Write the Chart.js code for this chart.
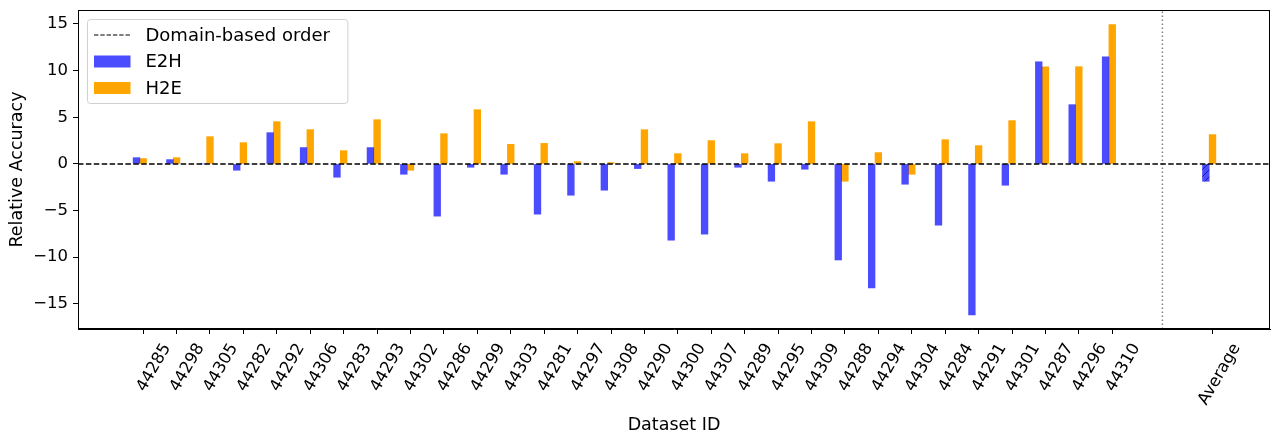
<!DOCTYPE html>
<html>
<head>
<meta charset="utf-8">
<script src="https://cdn.jsdelivr.net/npm/chart.js@4/dist/chart.umd.min.js"></script>
<style>
  html, body { margin: 0; padding: 0; background: #fff; }
  #wrap { width: 1280px; height: 436px; }
</style>
</head>
<body>
<div id="wrap"><canvas id="chart"></canvas></div>
<script>
// Data
const datasetIds = ["44285", "44298", "44305", "44282", "44292", "44306", "44283", "44293", "44302", "44286",
  "44299", "44303", "44281", "44297", "44308", "44290", "44300", "44307", "44289", "44295",
  "44309", "44288", "44294", "44304", "44284", "44291", "44301", "44287", "44296", "44310"];
const e2hValues = [0.67, 0.46, 0.0, -0.68, 3.35, 1.75, -1.43, 1.75, -1.11, -5.6,
  -0.36, -1.11, -5.39, -3.36, -2.82, -0.5, -8.18, -7.53, -0.36, -1.86,
  -0.57, -10.3, -13.3, -2.18, -6.57, -16.2, -2.29, 10.95, 6.35, 11.49];
const h2eValues = [0.57, 0.67, 2.92, 2.28, 4.53, 3.67, 1.42, 4.74, -0.68, 3.24,
  5.81, 2.1, 2.2, 0.25, 0.14, 3.67, 1.1, 2.5, 1.1, 2.17,
  4.53, -1.86, 1.21, -1.11, 2.6, 1.96, 4.64, 10.42, 10.42, 14.95];
const averageLabel = "Average";
const e2hAverage = -1.86;
const h2eAverage = 3.14;
const yTickValues = [-15, -10, -5, 0, 5, 10, 15];

// Layout
const avgPos = datasetIds.length + 2;   // gap of two slots before the average
const dividerPos = datasetIds.length + 0.5;
const barWidth = 0.2;
const xMin = -1.95, xMax = 33.72;
const yMin = -17.7, yMax = 16.5;
const FONT = "'DejaVu Sans', sans-serif";

const blue = "rgba(0, 0, 255, 0.7)";
const orange = "#ffa500";

// hatched fill for the average E2H bar
function hatch() {
  const c = document.createElement("canvas");
  c.width = 7; c.height = 7;
  const g = c.getContext("2d");
  g.fillStyle = blue;
  g.fillRect(0, 0, 7, 7);
  g.strokeStyle = "rgba(20, 20, 150, 0.9)";
  g.lineWidth = 1;
  g.beginPath();
  g.moveTo(0, 7); g.lineTo(7, 0);
  g.moveTo(-1, 1); g.lineTo(1, -1);
  g.moveTo(6, 8); g.lineTo(8, 6);
  g.stroke();
  return g.createPattern(c, "repeat");
}
const avgPattern = hatch();

const e2hPoints = e2hValues.map((v, i) => ({ x: i - barWidth, y: v }));
e2hPoints.push({ x: avgPos - barWidth, y: e2hAverage });
const h2ePoints = h2eValues.map((v, i) => ({ x: i, y: v }));
h2ePoints.push({ x: avgPos, y: h2eAverage });

// frame and legend
const extras = {
  id: "extras",
  afterDraw(chart) {
    const { ctx, chartArea: a } = chart;
    ctx.save();
    ctx.strokeStyle = "#000";
    ctx.lineWidth = 1;
    ctx.strokeRect(a.left + 0.5, a.top + 0.5, a.right - a.left - 1, a.bottom - a.top - 1);

    // legend box
    const items = chart.data.datasets.filter(d => d.legendKind);
    ctx.font = "18px " + FONT;
    const textW = Math.max(...items.map(d => ctx.measureText(d.label).width));
    const bx = a.left + 9.5, by = a.top + 9.5;
    const bw = 68 + textW + 8, bh = 84;
    ctx.fillStyle = "rgba(255,255,255,0.8)";
    ctx.strokeStyle = "#d0d0d0";
    ctx.beginPath();
    ctx.roundRect(bx, by, bw, bh, 3);
    ctx.fill();
    ctx.stroke();
    items.forEach((d, k) => {
      const cy = by + 15.5 + k * 26.5;
      if (d.legendKind === "line") {
        ctx.strokeStyle = "#000";
        ctx.lineWidth = 1.2;
        ctx.setLineDash([4.4, 1.9]);
        ctx.beginPath();
        ctx.moveTo(bx + 6.5, cy); ctx.lineTo(bx + 43, cy);
        ctx.stroke();
        ctx.setLineDash([]);
      } else {
        ctx.fillStyle = d.legendColor;
        ctx.fillRect(bx + 6.5, cy - 6, 36.5, 12);
      }
      ctx.fillStyle = "#000";
      ctx.textBaseline = "middle";
      ctx.textAlign = "left";
      ctx.fillText(d.label, bx + 58, cy + 1);
    });
    ctx.restore();
  }
};

new Chart(document.getElementById("chart"), {
  type: "bar",
  data: {
    datasets: [
      {
        type: "line",
        label: "Domain-based order",
        legendKind: "line",
        data: [{ x: xMin, y: 0 }, { x: xMax, y: 0 }],
        borderColor: "#000",
        borderWidth: 1.5,
        borderDash: [5.5, 2.4],
        pointRadius: 0,
        order: 0
      },
      {
        type: "line",
        label: "",
        data: [{ x: dividerPos, y: yMin }, { x: dividerPos, y: yMax }],
        borderColor: "#808080",
        borderWidth: 1.5,
        borderDash: [1.5, 2.5],
        pointRadius: 0,
        order: 0
      },
      {
        type: "bar",
        label: "E2H",
        legendKind: "bar",
        legendColor: blue,
        data: e2hPoints,
        backgroundColor: c => c.dataIndex === e2hValues.length ? avgPattern : blue,
        order: 1
      },
      {
        type: "bar",
        label: "H2E",
        legendKind: "bar",
        legendColor: orange,
        data: h2ePoints,
        backgroundColor: orange,
        order: 1
      }
    ]
  },
  options: {
    responsive: true,
    maintainAspectRatio: false,
    animation: false,
    layout: { padding: { top: 10, right: 10, left: 0, bottom: 0 } },
    datasets: {
      bar: { grouped: false, barPercentage: 1, categoryPercentage: 1 }
    },
    plugins: {
      legend: { display: false },
      tooltip: { enabled: false }
    },
    scales: {
      x: {
        type: "linear",
        min: xMin,
        max: xMax,
        offset: false,
        afterBuildTicks: s => {
          s.ticks = datasetIds.map((_, i) => ({ value: i })).concat([{ value: avgPos }]);
        },
        afterFit: s => { s.height = 107; s.paddingLeft = 0; s.paddingRight = 0; },
        grid: { offset: false, drawOnChartArea: false, drawTicks: true, tickLength: 5, color: "#000" },
        border: { display: true, color: "#000" },
        ticks: {
          autoSkip: false,
          minRotation: 60,
          maxRotation: 60,
          labelOffset: 24,
          padding: 6,
          color: "#000",
          font: { family: FONT, size: 16.5 },
          callback: v => v === avgPos ? averageLabel : datasetIds[v]
        },
        title: {
          display: true,
          text: "Dataset ID",
          color: "#000",
          font: { family: FONT, size: 17.5 },
          padding: { top: 4, bottom: 0 }
        }
      },
      y: {
        type: "linear",
        min: yMin,
        max: yMax,
        afterBuildTicks: s => { s.ticks = yTickValues.map(v => ({ value: v })); },
        afterFit: s => { s.width = 78; s.paddingTop = 0; s.paddingBottom = 0; },
        grid: { drawOnChartArea: false, drawTicks: true, tickLength: 5, color: "#000" },
        border: { display: true, color: "#000" },
        ticks: {
          color: "#000",
          padding: 5,
          font: { family: FONT, size: 16.5 },
          callback: v => v < 0 ? "\u2212" + Math.abs(v) : String(v)
        },
        title: {
          display: true,
          text: "Relative Accuracy",
          color: "#000",
          font: { family: FONT, size: 17.5 },
          padding: { top: 7, bottom: 0 }
        }
      }
    }
  },
  plugins: [extras]
});
</script>
</body>
</html>
